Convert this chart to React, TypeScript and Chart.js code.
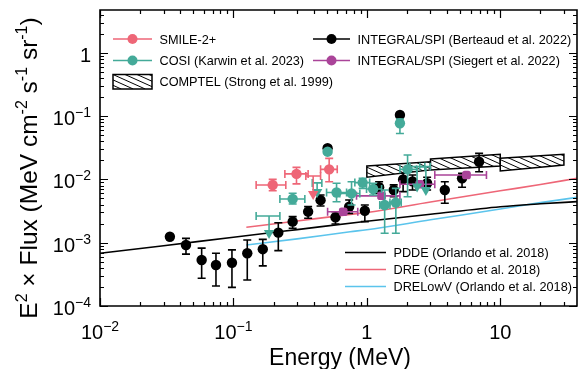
import React, { useEffect, useRef } from "react";
import { Chart, registerables } from "chart.js";
Chart.register(...registerables);

// ---------------- DATA ----------------
// INTEGRAL/SPI (Berteaud et al. 2022)
const berteaudE = [0.0334, 0.0441, 0.0578, 0.074, 0.0975, 0.127, 0.166, 0.217, 0.278, 0.363, 0.45, 0.508, 0.582, 0.737, 0.966, 1.236, 1.59, 1.77, 1.87, 2.2, 2.83, 3.84, 5.17, 6.94];
const berteaudF = [1.24e-3, 9.2e-4, 5.33e-4, 4.45e-4, 4.83e-4, 6.8e-4, 7.9e-4, 1.44e-3, 2.15e-3, 3.09e-3, 4.7e-3, 3.1e-2, 2.52e-3, 3.7e-3, 3.2e-3, 7.5e-3, 6.8e-3, 0.104, 1.0e-2, 9.3e-3, 8.7e-3, 6.8e-3, 1.04e-2, 1.9e-2];
const berteaudLo = [1.24e-3, 6.6e-4, 2.74e-4, 2.07e-4, 1.97e-4, 2.58e-4, 4.3e-4, 7.5e-4, 1.69e-3, 2.43e-3, 3.8e-3, 2.8e-2, 1.97e-3, 2.91e-3, 2.15e-3, 6.03e-3, 5.33e-3, 0.098, 6.4e-3, 6.8e-3, 6.8e-3, 4.2e-3, 7.5e-3, 1.32e-2];
const berteaudHi = [1.24e-3, 1.17e-3, 8.2e-4, 6.8e-4, 7.7e-4, 1.1e-3, 1.13e-3, 2.07e-3, 2.58e-3, 3.71e-3, 5.67e-3, 3.4e-2, 3.09e-3, 4.73e-3, 3.94e-3, 9.2e-3, 8.2e-3, 0.108, 1.25e-2, 1.17e-2, 1.08e-2, 9.2e-3, 1.25e-2, 2.58e-2];

// COSI (Karwin et al. 2023)
const cosiE = [0.278, 0.508, 0.593, 0.768, 0.93, 1.115, 1.36, 1.65, 1.77, 2.02];
const cosiF = [4.9e-3, 2.74e-2, 6.2e-3, 6.0e-3, 8.9e-3, 7.05e-3, 3.94e-3, 4.3e-3, 0.077, 1.44e-2];
const cosiElo = [0.223, 0.508, 0.499, 0.627, 0.813, 0.995, 1.25, 1.49, 1.77, 1.77];
const cosiEhi = [0.343, 0.508, 0.705, 0.886, 1.05, 1.29, 1.49, 1.81, 1.77, 2.36];
const cosiLo = [4.08e-3, 2.5e-2, 4.44e-3, 3.94e-3, 7.2e-3, 5.67e-3, 1.41e-3, 1.41e-3, 0.053, 5.33e-3];
const cosiHi = [6.03e-3, 2.9e-2, 8.7e-3, 9.2e-3, 1.04e-2, 8.7e-3, 6.8e-3, 7.2e-3, 0.09, 2.43e-2];
// COSI upper limits
const cosiUlE = [0.185, 0.424, 2.38, 2.77];
const cosiUlBar = [2.64e-3, 8.8e-3, 1.59e-2, 1.59e-2];
const cosiUlTri = [1.42e-3, 6.3e-3, 7.7e-3, 6.8e-3];
const cosiUlElo = [0.148, 0.39, 2.1, 2.49];
const cosiUlEhi = [0.223, 0.46, 2.72, 2.99];

// SMILE-2+
const smileE = [0.197, 0.297, 0.522];
const smileF = [8.15e-3, 1.22e-2, 1.44e-2];
const smileElo = [0.148, 0.243, 0.45];
const smileEhi = [0.247, 0.363, 0.6];
const smileLo = [6.6e-3, 8.5e-3, 9.2e-3];
const smileHi = [1.0e-2, 1.55e-2, 2.15e-2];
const smileUlE = [0.396];
const smileUlBar = [1.13e-2];
const smileUlTri = [5.9e-3];
const smileUlElo = [0.349];
const smileUlEhi = [0.45];

// INTEGRAL/SPI (Siegert et al. 2022)
const siegertE = [0.665, 1.29, 2.49, 5.58];
const siegertF = [3.09e-3, 5.5e-3, 8.4e-3, 1.17e-2];
const siegertElo = [0.508, 0.837, 1.77, 3.23];
const siegertEhi = [0.855, 1.77, 3.23, 7.88];
const siegertLo = [2.85e-3, 5.1e-3, 7.9e-3, 1.1e-2];
const siegertHi = [3.35e-3, 5.9e-3, 8.9e-3, 1.25e-2];

// COMPTEL (Strong et al. 1999) boxes
const comptelElo = [1.0, 3.0, 10.0];
const comptelEhi = [3.0, 10.0, 30.0];
const comptelTopLo = [1.63e-2, 2.1e-2, 2.16e-2];
const comptelTopHi = [1.9e-2, 2.5e-2, 2.5e-2];
const comptelBotLo = [1.08e-2, 1.41e-2, 1.36e-2];
const comptelBotHi = [1.41e-2, 1.63e-2, 1.69e-2];

// Models (Orlando et al. 2018)
const pddeE = [0.01, 0.03, 0.1, 0.3, 1, 3, 10, 20, 37.6];
const pddeF = [6.8e-4, 8.97e-4, 1.22e-3, 1.61e-3, 2.18e-3, 2.81e-3, 3.7e-3, 4.12e-3, 4.45e-3];
const dreE = [0.125, 0.3, 0.75, 1, 3, 10, 20, 37.6];
const dreF = [1.75e-3, 2.2e-3, 2.8e-3, 3.0e-3, 4.4e-3, 6.6e-3, 8.3e-3, 1.04e-2];
const drelowvE = [0.125, 0.3, 0.75, 1, 3, 10, 20, 37.6];
const drelowvF = [9.2e-4, 1.15e-3, 1.49e-3, 1.6e-3, 2.3e-3, 3.4e-3, 4.3e-3, 5.2e-3];

// Axes
const xMin = 0.01;
const xMax = 37.6;
const yMin = 1e-4;
const yMax = 4.74;
const xMajorTicks = [0.01, 0.1, 1, 10];
const xTickLabels = [["10", "\u22122"], ["10", "\u22121"], ["1", ""], ["10", ""]];
const yMajorTicks = [1e-4, 1e-3, 1e-2, 1e-1, 1];
const yTickLabels = [["10", "\u22124"], ["10", "\u22123"], ["10", "\u22122"], ["10", "\u22121"], ["1", ""]];

// ---------------- STYLE ----------------
const BLACK = "#000000";
const PINK = "#EE6677";
const TEAL = "#44AA99";
const PURPLE = "#AA4499";
const CYAN = "#5BC4EC";
const FONT = "'Liberation Sans', Arial, sans-serif";

const pts = (xs: number[], ys: number[]) => xs.map((x, i) => ({ x, y: ys[i] }));

type ErrInfo = {
  color: string;
  E: number[];
  F: number[];
  Elo?: number[];
  Ehi?: number[];
  Lo?: number[];
  Hi?: number[];
  ul?: boolean;
  bar?: number[];
};

export default function App() {
  const ref = useRef<HTMLCanvasElement>(null);
  useEffect(() => {
    const canvas = ref.current!;
    const errMap: Record<number, ErrInfo> = {};

    const datasets: any[] = [
      { type: "line", label: "PDDE", data: pts(pddeE, pddeF), borderColor: BLACK, borderWidth: 1.6, pointRadius: 0, cubicInterpolationMode: "monotone", order: 20 },
      { type: "line", label: "DRE", data: pts(dreE, dreF), borderColor: PINK, borderWidth: 1.6, pointRadius: 0, cubicInterpolationMode: "monotone", order: 21 },
      { type: "line", label: "DRELowV", data: pts(drelowvE, drelowvF), borderColor: CYAN, borderWidth: 1.6, pointRadius: 0, cubicInterpolationMode: "monotone", order: 22 },
      { type: "scatter", label: "Berteaud", data: pts(berteaudE, berteaudF), backgroundColor: BLACK, borderWidth: 0, pointRadius: 5.2, order: 6 },
      { type: "scatter", label: "Siegert", data: pts(siegertE, siegertF), backgroundColor: PURPLE, borderWidth: 0, pointRadius: 5, pointStyle: "rectRounded", order: 5 },
      { type: "scatter", label: "COSI", data: pts(cosiE, cosiF), backgroundColor: TEAL, borderWidth: 0, pointRadius: 5.2, order: 4 },
      { type: "scatter", label: "COSI UL", data: pts(cosiUlE, cosiUlTri), backgroundColor: TEAL, borderWidth: 0, pointRadius: 6, pointStyle: "triangle", rotation: 180, order: 4 },
      { type: "scatter", label: "SMILE", data: pts(smileE, smileF), backgroundColor: PINK, borderWidth: 0, pointRadius: 5.2, order: 3 },
      { type: "scatter", label: "SMILE UL", data: pts(smileUlE, smileUlTri), backgroundColor: PINK, borderWidth: 0, pointRadius: 6, pointStyle: "triangle", rotation: 180, order: 3 },
    ];
    errMap[3] = { color: BLACK, E: berteaudE, F: berteaudF, Lo: berteaudLo, Hi: berteaudHi };
    errMap[4] = { color: PURPLE, E: siegertE, F: siegertF, Elo: siegertElo, Ehi: siegertEhi, Lo: siegertLo, Hi: siegertHi };
    errMap[5] = { color: TEAL, E: cosiE, F: cosiF, Elo: cosiElo, Ehi: cosiEhi, Lo: cosiLo, Hi: cosiHi };
    errMap[6] = { color: TEAL, E: cosiUlE, F: cosiUlTri, Elo: cosiUlElo, Ehi: cosiUlEhi, ul: true, bar: cosiUlBar };
    errMap[7] = { color: PINK, E: smileE, F: smileF, Elo: smileElo, Ehi: smileEhi, Lo: smileLo, Hi: smileHi };
    errMap[8] = { color: PINK, E: smileUlE, F: smileUlTri, Elo: smileUlElo, Ehi: smileUlEhi, ul: true, bar: smileUlBar };

    const cap = 4;
    const errorBars = {
      id: "errorBars",
      beforeDatasetDraw(chart: any, args: any) {
        const info = errMap[args.index];
        if (!info) return;
        const { ctx } = chart;
        const xs = chart.scales.x;
        const ys = chart.scales.y;
        ctx.save();
        ctx.strokeStyle = info.color;
        ctx.lineWidth = 1.6;
        for (let i = 0; i < info.E.length; i++) {
          const px = xs.getPixelForValue(info.E[i]);
          if (info.ul && info.bar) {
            const pb = ys.getPixelForValue(info.bar[i]);
            const pt = ys.getPixelForValue(info.F[i]);
            const x0 = xs.getPixelForValue(info.Elo![i]);
            const x1 = xs.getPixelForValue(info.Ehi![i]);
            ctx.beginPath();
            ctx.moveTo(x0, pb); ctx.lineTo(x1, pb);
            ctx.moveTo(x0, pb - cap); ctx.lineTo(x0, pb + cap);
            ctx.moveTo(x1, pb - cap); ctx.lineTo(x1, pb + cap);
            ctx.moveTo(px, pb); ctx.lineTo(px, pt);
            ctx.stroke();
            continue;
          }
          const py = ys.getPixelForValue(info.F[i]);
          ctx.beginPath();
          if (info.Lo && info.Hi) {
            const y0 = ys.getPixelForValue(info.Lo[i]);
            const y1 = ys.getPixelForValue(info.Hi[i]);
            if (Math.abs(y0 - y1) > 1) {
              ctx.moveTo(px, y0); ctx.lineTo(px, y1);
              ctx.moveTo(px - cap, y0); ctx.lineTo(px + cap, y0);
              ctx.moveTo(px - cap, y1); ctx.lineTo(px + cap, y1);
            }
          }
          if (info.Elo && info.Ehi) {
            const x0 = xs.getPixelForValue(info.Elo[i]);
            const x1 = xs.getPixelForValue(info.Ehi[i]);
            if (Math.abs(x1 - x0) > 1) {
              ctx.moveTo(x0, py); ctx.lineTo(x1, py);
              ctx.moveTo(x0, py - cap); ctx.lineTo(x0, py + cap);
              ctx.moveTo(x1, py - cap); ctx.lineTo(x1, py + cap);
            }
          }
          ctx.stroke();
        }
        ctx.restore();
      },
    };

    const hatchPoly = (ctx: CanvasRenderingContext2D, poly: number[][]) => {
      ctx.save();
      ctx.beginPath();
      ctx.moveTo(poly[0][0], poly[0][1]);
      for (let k = 1; k < poly.length; k++) ctx.lineTo(poly[k][0], poly[k][1]);
      ctx.closePath();
      ctx.fillStyle = "#ffffff";
      ctx.fill();
      ctx.save();
      ctx.clip();
      const minX = Math.min(...poly.map((p) => p[0])) - 60;
      const maxX = Math.max(...poly.map((p) => p[0])) + 60;
      const minY = Math.min(...poly.map((p) => p[1]));
      const maxY = Math.max(...poly.map((p) => p[1]));
      const slope = 0.45;
      ctx.strokeStyle = "#000";
      ctx.lineWidth = 1;
      ctx.beginPath();
      for (let x = minX; x < maxX; x += 12) {
        ctx.moveTo(x, minY);
        ctx.lineTo(x + (maxY - minY) / slope, maxY);
      }
      ctx.stroke();
      ctx.restore();
      ctx.beginPath();
      ctx.moveTo(poly[0][0], poly[0][1]);
      for (let k = 1; k < poly.length; k++) ctx.lineTo(poly[k][0], poly[k][1]);
      ctx.closePath();
      ctx.strokeStyle = "#000";
      ctx.lineWidth = 1.5;
      ctx.stroke();
      ctx.restore();
    };

    const comptel = {
      id: "comptel",
      afterDatasetDraw(chart: any, args: any) {
        if (args.index !== 0) return; // after the PDDE line (last line drawn)
        const { ctx } = chart;
        const xs = chart.scales.x;
        const ys = chart.scales.y;
        for (let i = 0; i < comptelElo.length; i++) {
          const x0 = xs.getPixelForValue(comptelElo[i]);
          const x1 = xs.getPixelForValue(comptelEhi[i]);
          hatchPoly(ctx, [
            [x0, ys.getPixelForValue(comptelTopLo[i])],
            [x1, ys.getPixelForValue(comptelTopHi[i])],
            [x1, ys.getPixelForValue(comptelBotHi[i])],
            [x0, ys.getPixelForValue(comptelBotLo[i])],
          ]);
        }
      },
    };

    const supText = (ctx: CanvasRenderingContext2D, parts: [string, boolean][], mainFont: string, supFont: string, supRise: number) => {
      let w = 0;
      const widths = parts.map(([t, s]) => {
        ctx.font = s ? supFont : mainFont;
        const m = ctx.measureText(t).width;
        w += m;
        return m;
      });
      return {
        width: w,
        draw(x: number, y: number) {
          let cx = x;
          parts.forEach(([t, s], i) => {
            ctx.font = s ? supFont : mainFont;
            ctx.fillText(t, cx, s ? y - supRise : y);
            cx += widths[i];
          });
        },
      };
    };

    const axes = {
      id: "axes",
      afterDraw(chart: any) {
        const { ctx, chartArea } = chart;
        const xs = chart.scales.x;
        const ys = chart.scales.y;
        const { left, right, top, bottom } = chartArea;
        ctx.save();
        ctx.strokeStyle = "#000";
        ctx.fillStyle = "#000";
        ctx.lineWidth = 1.6;
        ctx.beginPath();
        ctx.rect(left, top, right - left, bottom - top);
        ctx.stroke();
        ctx.lineWidth = 1.2;
        ctx.beginPath();
        for (let d = -2; d <= 1; d++) {
          for (let m = 1; m <= 9; m++) {
            const v = m * Math.pow(10, d);
            if (v < xMin * 0.999 || v > xMax) continue;
            const px = Math.round(xs.getPixelForValue(v)) + 0.5;
            const len = m === 1 ? 8 : 4;
            ctx.moveTo(px, bottom); ctx.lineTo(px, bottom - len);
            ctx.moveTo(px, top); ctx.lineTo(px, top + len);
          }
        }
        for (let d = -4; d <= 0; d++) {
          for (let m = 1; m <= 9; m++) {
            const v = m * Math.pow(10, d);
            if (v < yMin * 0.999 || v > yMax) continue;
            const py = Math.round(ys.getPixelForValue(v)) + 0.5;
            const len = m === 1 ? 8 : 4;
            ctx.moveTo(left, py); ctx.lineTo(left + len, py);
            ctx.moveTo(right, py); ctx.lineTo(right - len, py);
          }
        }
        ctx.stroke();

        const mainF = `20px ${FONT}`;
        const supF = `14px ${FONT}`;
        ctx.textBaseline = "alphabetic";
        ctx.textAlign = "left";
        xMajorTicks.forEach((v, i) => {
          const [b, e] = xTickLabels[i];
          const parts: [string, boolean][] = e ? [[b, false], [e, true]] : [[b, false]];
          const st = supText(ctx, parts, mainF, supF, 8);
          const px = xs.getPixelForValue(v);
          st.draw(px - st.width / 2, 339);
        });
        yMajorTicks.forEach((v, i) => {
          const [b, e] = yTickLabels[i];
          const parts: [string, boolean][] = e ? [[b, false], [e, true]] : [[b, false]];
          const st = supText(ctx, parts, mainF, supF, 8);
          const py = ys.getPixelForValue(v);
          st.draw(91 - st.width, py + 9);
        });
        ctx.font = `23px ${FONT}`;
        ctx.textAlign = "center";
        ctx.fillText("Energy (MeV)", 340, 365);
        ctx.textAlign = "left";
        const yt = supText(
          ctx,
          [["E", false], ["2", true], [" \u00d7 Flux (MeV cm", false], ["-2", true], [" s", false], ["-1", true], [" sr", false], ["-1", true], [")", false]],
          `24.5px ${FONT}`,
          `16px ${FONT}`,
          10
        );
        ctx.save();
        ctx.translate(37, 168);
        ctx.rotate(-Math.PI / 2);
        yt.draw(-yt.width / 2, 0);
        ctx.restore();

        const legendLine = (x0: number, x1: number, y: number, color: string, marker: string | null, label: string) => {
          ctx.strokeStyle = color;
          ctx.lineWidth = 1.6;
          ctx.beginPath();
          ctx.moveTo(x0, y); ctx.lineTo(x1, y);
          ctx.stroke();
          if (marker) {
            ctx.fillStyle = color;
            ctx.beginPath();
            ctx.arc((x0 + x1) / 2, y, 5, 0, Math.PI * 2);
            ctx.fill();
          }
          ctx.fillStyle = "#000";
          ctx.font = `12.7px ${FONT}`;
          ctx.textAlign = "left";
          ctx.fillText(label, x1 + 7.5, y + 4.6);
        };
        legendLine(113, 152, 39, PINK, "o", "SMILE-2+");
        legendLine(113, 152, 60.5, TEAL, "o", "COSI (Karwin et al. 2023)");
        hatchPoly(ctx, [[113, 74.5], [152, 74.5], [152, 89], [113, 89]]);
        ctx.fillStyle = "#000";
        ctx.font = `12.7px ${FONT}`;
        ctx.fillText("COMPTEL (Strong et al. 1999)", 159.5, 86.3);
        legendLine(313, 350, 39, BLACK, "o", "INTEGRAL/SPI (Berteaud et al. 2022)");
        legendLine(313, 350, 60.5, PURPLE, "o", "INTEGRAL/SPI (Siegert et al. 2022)");
        legendLine(345, 386, 252.5, BLACK, null, "PDDE (Orlando et al. 2018)");
        legendLine(345, 386, 269.5, PINK, null, "DRE (Orlando et al. 2018)");
        legendLine(345, 386, 286.5, CYAN, null, "DRELowV (Orlando et al. 2018)");
        ctx.restore();
      },
    };

    const chart = new Chart(canvas, {
      type: "scatter",
      data: { datasets },
      options: {
        responsive: false,
        animation: false,
        devicePixelRatio: 1,
        layout: { autoPadding: false, padding: { left: 100, right: 1, top: 10, bottom: 63 } },
        plugins: { legend: { display: false }, tooltip: { enabled: false } },
        scales: {
          x: { type: "logarithmic", min: xMin, max: xMax, display: false },
          y: { type: "logarithmic", min: yMin, max: yMax, display: false },
        },
      } as any,
      plugins: [errorBars, comptel, axes],
    });
    return () => chart.destroy();
  }, []);

  return (
    <div style={{ position: "absolute", left: 0, top: 0, width: 578, height: 369, background: "#fff" }}>
      <canvas ref={ref} width={578} height={369} style={{ width: 578, height: 369, display: "block" }} />
    </div>
  );
}
